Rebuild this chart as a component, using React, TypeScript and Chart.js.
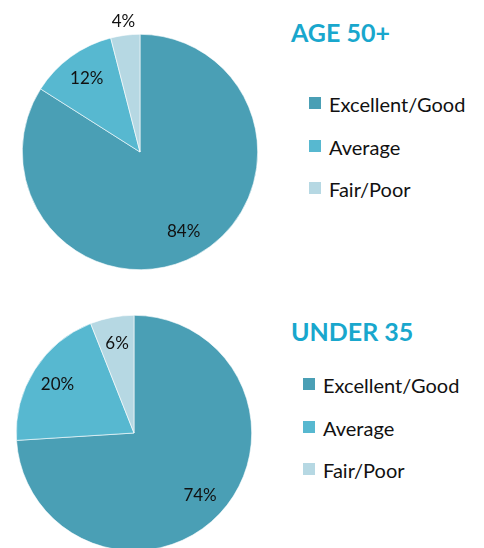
import React, { useEffect, useRef } from "react";
import { Chart, registerables } from "chart.js";

Chart.register(...registerables);

const categories = ["Excellent/Good", "Average", "Fair/Poor"];
const age50Values = [84, 12, 4];
const under35Values = [74, 20, 6];
const sliceColors = ["#4a9fb5", "#57b8d0", "#b6d8e3"];
const panelTitles = ["AGE 50+", "UNDER 35"];

const FONT = "Lato, 'Open Sans', sans-serif";

const pctLabelPlugin = {
  id: "pctLabels",
  afterDatasetsDraw(chart: any) {
    const ctx = chart.ctx;
    const meta = chart.getDatasetMeta(0);
    const data = chart.data.datasets[0].data as number[];
    ctx.save();
    ctx.font = `17px ${FONT}`;
    ctx.fillStyle = "#111111";
    ctx.textAlign = "center";
    ctx.textBaseline = "middle";
    meta.data.forEach((arc: any, i: number) => {
      const p = arc.getProps(["x", "y", "startAngle", "endAngle", "outerRadius"], true);
      const mid = (p.startAngle + p.endAngle) / 2;
      const v = data[i];
      const r = v < 5 ? p.outerRadius * 1.12 : p.outerRadius * 0.77;
      ctx.fillText(v + "%", p.x + Math.cos(mid) * r, p.y + Math.sin(mid) * r);
    });
    ctx.restore();
  },
};

function Pie({ values, left, top }: { values: number[]; left: number; top: number }) {
  const ref = useRef<HTMLCanvasElement>(null);
  useEffect(() => {
    const chart = new Chart(ref.current!, {
      type: "pie",
      data: {
        labels: categories,
        datasets: [
          {
            data: values,
            backgroundColor: sliceColors,
            borderColor: "#ffffff",
            borderWidth: 0.6,
          },
        ],
      },
      options: {
        responsive: false,
        animation: false,
        devicePixelRatio: 1,
        layout: { padding: 22 },
        plugins: {
          legend: { display: false },
          tooltip: { enabled: false },
          title: { display: false },
        },
      },
      plugins: [pctLabelPlugin],
    });
    return () => chart.destroy();
  }, [values]);
  return (
    <canvas
      ref={ref}
      width={280}
      height={280}
      style={{ position: "absolute", left, top, width: 280, height: 280 }}
    />
  );
}

function Title({ text, left, top }: { text: string; left: number; top: number }) {
  return (
    <div
      style={{
        position: "absolute",
        left,
        top,
        fontFamily: FONT,
        fontSize: 25,
        lineHeight: "25px",
        fontWeight: 700,
        color: "#19a7cd",
        whiteSpace: "nowrap",
      }}
    >
      {text}
    </div>
  );
}

function Legend({ left, top }: { left: number; top: number }) {
  return (
    <div style={{ position: "absolute", left, top, fontFamily: FONT }}>
      {categories.map((c, i) => (
        <div
          key={c}
          style={{
            position: "absolute",
            left: 0,
            top: i * 42.5,
            height: 20,
            whiteSpace: "nowrap",
          }}
        >
          <span
            style={{
              position: "absolute",
              left: 0,
              top: 1,
              width: 12,
              height: 12,
              background: sliceColors[i],
            }}
          />
          <span
            style={{
              position: "absolute",
              left: 20,
              top: -2,
              fontSize: 20,
              lineHeight: "20px",
              color: "#111111",
            }}
          >
            {c}
          </span>
        </div>
      ))}
    </div>
  );
}

export default function App() {
  return (
    <div
      style={{
        position: "fixed",
        left: 0,
        top: 0,
        width: 484,
        height: 548,
        overflow: "hidden",
        background: "#ffffff",
      }}
    >
      <Pie values={age50Values} left={0} top={12} />
      <Title text={panelTitles[0]} left={291} top={20} />
      <Legend left={309} top={96} />
      <Pie values={under35Values} left={-6} top={293} />
      <Title text={panelTitles[1]} left={291} top={319} />
      <Legend left={303} top={377} />
    </div>
  );
}
